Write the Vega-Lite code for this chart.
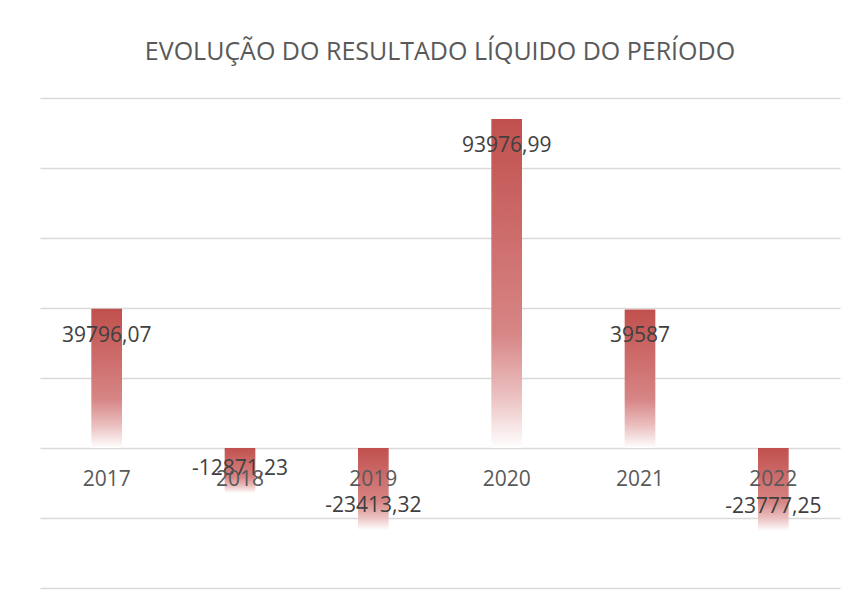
{
  "$schema": "https://vega.github.io/schema/vega-lite/v6.json",
  "width": 800,
  "height": 490,
  "autosize": {"type": "none"},
  "padding": {"left": 40, "top": 98, "right": 20, "bottom": 22},
  "background": "white",
  "title": {
    "text": "EVOLUÇÃO DO RESULTADO LÍQUIDO DO PERÍODO",
    "font": "Open Sans",
    "fontSize": 25,
    "fontWeight": "normal",
    "color": "#595959",
    "anchor": "middle",
    "offset": 33
  },
  "data": {
    "values": [
      {"ano": "2017", "valor": 39796.07, "rotulo": "39796,07"},
      {"ano": "2018", "valor": -12871.23, "rotulo": "-12871,23"},
      {"ano": "2019", "valor": -23413.32, "rotulo": "-23413,32"},
      {"ano": "2020", "valor": 93976.99, "rotulo": "93976,99"},
      {"ano": "2021", "valor": 39587, "rotulo": "39587"},
      {"ano": "2022", "valor": -23777.25, "rotulo": "-23777,25"}
    ]
  },
  "encoding": {
    "x": {
      "field": "ano",
      "type": "nominal",
      "sort": null,
      "scale": {"paddingInner": 0.77, "paddingOuter": 0.385},
      "axis": {
        "title": null,
        "orient": "bottom",
        "offset": -140,
        "zindex": 1,
        "domain": false,
        "ticks": false,
        "labelAngle": 0,
        "labelFont": "Open Sans",
        "labelFontSize": 21,
        "labelColor": "#595959",
        "labelPadding": 20
      }
    },
    "y": {
      "field": "valor",
      "type": "quantitative",
      "scale": {"domain": [-40000, 100000], "nice": false, "zero": false},
      "axis": {
        "title": null,
        "labels": false,
        "ticks": false,
        "domain": false,
        "grid": true,
        "gridColor": "#d9d9d9",
        "gridWidth": 1.5,
        "values": [-40000, -20000, 0, 20000, 40000, 60000, 80000, 100000]
      }
    }
  },
  "layer": [
    {
      "mark": {
        "type": "bar",
        "color": {
          "gradient": "linear",
          "x1": 0, "y1": 0, "x2": 0, "y2": 1,
          "stops": [
            {"offset": 0, "color": "#c0504d"},
            {"offset": 0.65, "color": "#d78585"},
            {"offset": 0.85, "color": "#ecc3c3"},
            {"offset": 1, "color": "#ffffff"}
          ]
        }
      }
    },
    {
      "transform": [{"filter": "datum.valor >= 0"}],
      "mark": {"type": "text", "baseline": "middle", "dy": 27, "font": "Open Sans", "fontSize": 21, "color": "#404040"},
      "encoding": {"text": {"field": "rotulo"}}
    },
    {
      "transform": [{"filter": "datum.valor < 0"}],
      "mark": {"type": "text", "baseline": "middle", "dy": -24, "font": "Open Sans", "fontSize": 21, "color": "#404040"},
      "encoding": {"text": {"field": "rotulo"}}
    }
  ],
  "config": {"view": {"stroke": null}}
}
